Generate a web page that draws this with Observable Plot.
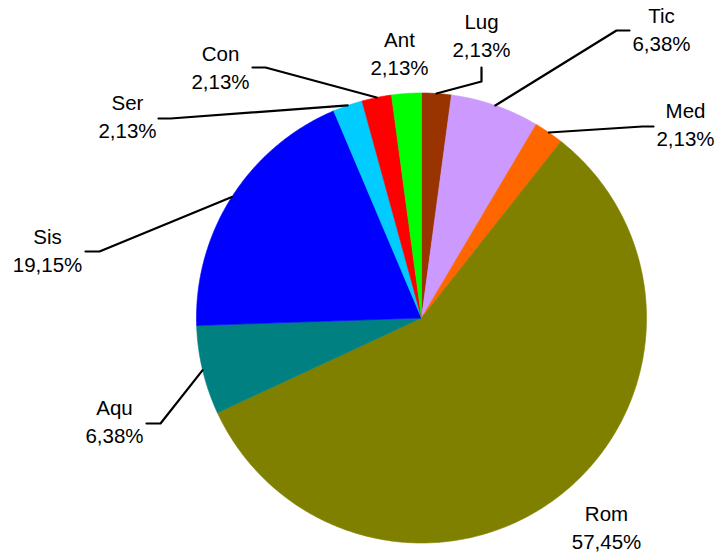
<!DOCTYPE html>
<html>
<head>
<meta charset="utf-8">
<script src="https://cdn.jsdelivr.net/npm/d3@7"></script>
<script src="https://cdn.jsdelivr.net/npm/@observablehq/plot@0.6"></script>
<style>
  html, body { margin: 0; padding: 0; background: #fff; }
  #chart svg { display: block; }
</style>
</head>
<body>
<div id="chart"></div>
<script>
// Data (clockwise from 12 o'clock)
const names   = ["Lug", "Tic", "Med", "Rom", "Aqu", "Sis", "Ser", "Con", "Ant"];
const counts  = [1, 3, 1, 27, 3, 9, 1, 1, 1];
const pctLabels = ["2,13%", "6,38%", "2,13%", "57,45%", "6,38%", "19,15%", "2,13%", "2,13%", "2,13%"];
const colors  = ["#993300", "#CC99FF", "#FF6600", "#808000", "#008080", "#0000FF", "#00CCFF", "#FF0000", "#00FF00"];

// Label layout (pixel anchors): text center x, baseline of last line; leader elbow & end (null = no leader)
const labelLayout = {
  Lug: {tx: 481, ty: 56,  elbow: [481, 81],  end: [481, 67]},
  Tic: {tx: 661, ty: 50,  elbow: [616, 30],  end: [629, 30]},
  Med: {tx: 685, ty: 145, elbow: [642, 126], end: [653, 126]},
  Rom: {tx: 606, ty: 548, elbow: null, end: null},
  Aqu: {tx: 114, ty: 442, elbow: [160, 423], end: [146, 423]},
  Sis: {tx: 47,  ty: 271, elbow: [99, 251],  end: [85, 251]},
  Ser: {tx: 127, ty: 137, elbow: [170, 118], end: [158, 118]},
  Con: {tx: 220, ty: 88,  elbow: [265, 67],  end: [252, 67]},
  Ant: {tx: 399, ty: 74,  elbow: null, end: null}
};

const W = 715, H = 556;
const cx = 421, cy = 317.5, R = 225; // pixel geometry of the pie
// data units: radius = 1
const xDomain = [-cx / R, (W - cx) / R];
const yDomain = [-(H - cy) / R, cy / R];
const px2x = (px) => (px - cx) / R;
const px2y = (py) => (cy - py) / R;

const pie = d3.pie().sort(null).value(d => d)(counts);

// Build slice polygons
const slicePts = [];
pie.forEach((a, i) => {
  const n = Math.max(4, Math.ceil((a.endAngle - a.startAngle) / 0.01));
  slicePts.push({name: names[i], x: 0, y: 0});
  for (let k = 0; k <= n; k++) {
    const t = a.startAngle + (a.endAngle - a.startAngle) * k / n;
    slicePts.push({name: names[i], x: Math.sin(t), y: Math.cos(t)});
  }
  slicePts.push({name: names[i], x: 0, y: 0});
});

// Leader lines
const leaderPts = [];
pie.forEach((a, i) => {
  const L = labelLayout[names[i]];
  if (!L.elbow) return;
  const m = (a.startAngle + a.endAngle) / 2;
  leaderPts.push({name: names[i], x: Math.sin(m), y: Math.cos(m)});
  leaderPts.push({name: names[i], x: px2x(L.elbow[0]), y: px2y(L.elbow[1])});
  leaderPts.push({name: names[i], x: px2x(L.end[0]), y: px2y(L.end[1])});
});

const labels = names.map((n, i) => ({
  name: n,
  text: n + "\n" + pctLabels[i],
  x: px2x(labelLayout[n].tx),
  y: px2y(labelLayout[n].ty)
}));

const chart = Plot.plot({
  width: W,
  height: H,
  margin: 0,
  x: {domain: xDomain, axis: null},
  y: {domain: yDomain, axis: null},
  color: {domain: names, range: colors},
  style: {background: "#fff"},
  marks: [
    Plot.line(slicePts, {x: "x", y: "y", z: "name", fill: "name", stroke: "name", strokeWidth: 0.6, curve: "linear"}),
    Plot.line(leaderPts, {x: "x", y: "y", z: "name", stroke: "#000", strokeWidth: 2.2, curve: "linear"}),
    Plot.text(labels, {x: "x", y: "y", text: "text", textAnchor: "middle", lineAnchor: "bottom",
      lineHeight: 1.32, fontSize: 20.5, fill: "#000", fontFamily: "Liberation Sans, Arial, sans-serif"})
  ]
});
document.getElementById("chart").appendChild(chart);
</script>
</body>
</html>
